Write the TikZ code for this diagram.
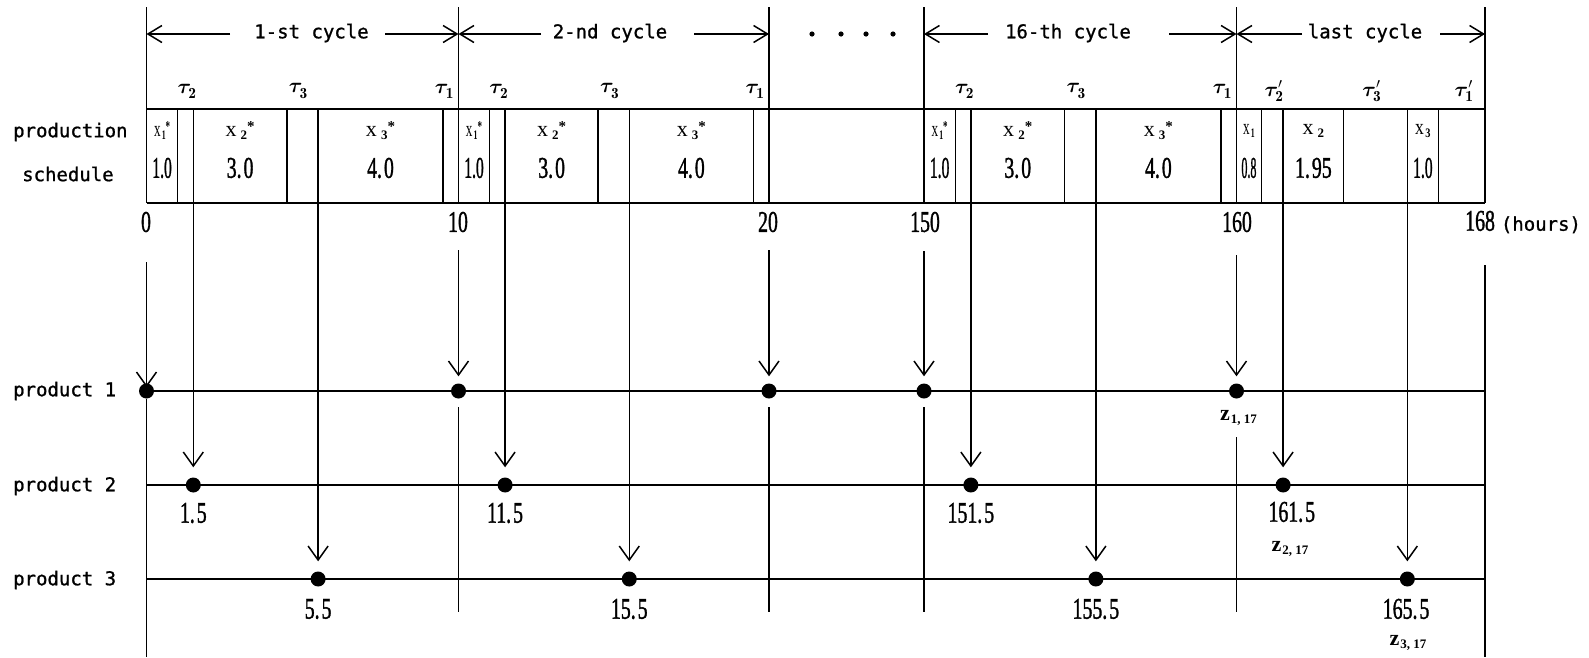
\documentclass[tikz,border=0pt]{standalone}
\usepackage{fontspec}
\usepackage{graphicx}
\usepackage{bm}
\usetikzlibrary{arrows.meta}
\newfontfamily\labfont{DejaVu Sans Mono}[FakeBold=1]
\newfontfamily\numfont{Liberation Serif}[FakeBold=1.5]
\newfontfamily\xfont{Liberation Serif}
% horizontally condensed text
\newcommand\nar[2][0.66]{\scalebox{#1}[1]{#2}}
% lot-size symbol x_i (with optional star)
\newcommand\xlab[2]{{\xfont\fontsize{22}{22}\selectfont x}\kern2pt\raisebox{-3pt}{\xfont\bfseries\fontsize{13}{13}\selectfont #1}\raisebox{5pt}{\xfont\bfseries\fontsize{15}{15}\selectfont #2}}
% setup-time symbol tau_i (with optional prime)
\newcommand\taul[2]{$\bm{\tau}_{\mathbf{#1}}^{#2}$}
% bold z_{i,17}
\newcommand\zlab[1]{{\fontsize{22}{22}\selectfont z}\kern1pt\raisebox{-3pt}{\fontsize{13}{13}\selectfont #1}}

\begin{document}
\begin{tikzpicture}[x=1pt,y=-1pt,
  boxline/.style={line width=2pt},
  rule/.style={line width=1.5pt},
  drop/.style={line width=1.5pt,-{Straight Barb[length=14pt,width=20pt,line width=1.5pt]}},
  span/.style={line width=1.5pt,-{Straight Barb[length=14pt,width=17pt,line width=1.5pt]}},
  lab/.style={font=\labfont\fontsize{19}{19}\selectfont, inner sep=0pt},
  num/.style={font=\numfont\fontsize{30}{30}\selectfont, inner sep=0pt},
  tau/.style={font=\fontsize{22}{22}\selectfont, inner sep=0pt},
  xl/.style={inner sep=0pt},
  zl/.style={font=\xfont\bfseries, inner sep=0pt},
  bead/.style={circle, fill, inner sep=0pt, minimum size=15pt},
]
\fill[white] (0,0) rectangle (1589,657);
\useasboundingbox (0,0) rectangle (1589,657);

% ---------- left-hand row titles ----------
\node[lab, anchor=west] (prod) at (13,132) {production};
\node[lab, anchor=west] (sched) at (22,174) {schedule};
\node[lab, anchor=west] (r1) at (13,391) {product 1};
\node[lab, anchor=west] (r2) at (13,486) {product 2};
\node[lab, anchor=west] (r3) at (13,580) {product 3};

% ---------- schedule bar frame and cycle boundaries ----------
\draw[boxline] (146.5,109) -- (1485,109);
\draw[boxline] (146.5,203) -- (1485,203);
\foreach \bx in {146.5,458.5,769,924,1236.5,1485}
  \draw[rule] (\bx,7) -- (\bx,203);

% ---------- cycle captions ----------
\coordinate (b0) at (146.5,34);
\coordinate (b10) at (458.5,34);
\coordinate (b20) at (769,34);
\coordinate (b150) at (924,34);
\coordinate (b160) at (1236.5,34);
\coordinate (b168) at (1485,34);

\node[lab] (cy1) at (311.5,33) {1-st cycle};
\coordinate (cy1l) at (230,34);
\coordinate (cy1r) at (385,34);
\draw[span] (cy1l) -- (b0);
\draw[span] (cy1r) -- (b10);

\node[lab] (cy2) at (610,33) {2-nd cycle};
\coordinate (cy2l) at (541,34);
\coordinate (cy2r) at (694,34);
\draw[span] (cy2l) -- (b10);
\draw[span] (cy2r) -- (b20);

\node[lab] (cy16) at (1068,33) {16-th cycle};
\coordinate (cy16l) at (988,34);
\coordinate (cy16r) at (1169,34);
\draw[span] (cy16l) -- (b150);
\draw[span] (cy16r) -- (b160);

\node[lab] (cyl) at (1365,33) {last cycle};
\coordinate (cyll) at (1302,34);
\coordinate (cylr) at (1440,34);
\draw[span] (cyll) -- (b160);
\draw[span] (cylr) -- (b168);

\foreach \dx in {812,841,866,893}
  \fill (\dx,34) circle (2.6);

% ---------- regular cycles ----------
\foreach \p/\s/\u/\lb/\lc in {a/146.5/31.2/1.\kern3pt 5/5.\kern3pt 5,
                               b/458.5/31.05/11.\kern3pt 5/15.\kern3pt 5,
                               c/924/31.25/151.\kern3pt 5/155.\kern3pt 5}{
  \begin{scope}[shift={(\s,0)}, x=\u pt]
    \foreach \t in {1,1.5,4.5,5.5,9.5}
      \draw[rule] (\t,109) -- (\t,203);
    \node[tau] at (1.3,91) {\taul{2}{}};
    \node[tau] at (4.87,91) {\taul{3}{}};
    \node[tau] at (9.55,91) {\taul{1}{}};
    \node[xl] at (0.5,131) {\nar[0.6]{\xlab{1}{*}}};
    \node[num] at (0.5,168) {\nar[0.52]{1.0}};
    \node[xl] at (3,131) {\xlab{\,2}{*}};
    \node[num] at (3,168) {\nar{3.\kern3pt 0}};
    \node[xl] at (7.5,131) {\xlab{\,3}{*}};
    \node[num] at (7.5,168) {\nar{4.\kern3pt 0}};
    \coordinate (\p-s2) at (1.5,203);
    \coordinate (\p-s3) at (5.5,203);
    \node[bead] (\p-2) at (1.5,485) {};
    \node[bead] (\p-3) at (5.5,579) {};
    \node[num] at (1.5,513) {\nar{\lb}};
    \node[num] at (5.5,609) {\nar{\lc}};
  \end{scope}
}

% ---------- last (shortened) cycle ----------
\begin{scope}[shift={(1236.5,0)}, x=31.06pt]
  \foreach \t in {0.8,1.5,3.45,5.5,6.5}
    \draw[rule] (\t,109) -- (\t,203);
  \node[tau] at (1.21,91) {\taul{2}{\prime}};
  \node[tau] at (4.36,91) {\taul{3}{\prime}};
  \node[tau] at (7.33,91) {\taul{1}{\prime}};
  \node[xl] at (0.4,131) {\nar[0.6]{\xlab{1}{}}};
  \node[num] at (0.4,168) {\nar[0.4]{0.8}};
  \node[xl] at (2.475,131) {\xlab{\,2}{}};
  \node[num] at (2.475,168) {\nar{1.\kern3pt 95}};
  \node[xl] at (6,131) {\nar[0.8]{\xlab{3}{}}};
  \node[num] at (6,168) {\nar[0.52]{1.0}};
  \coordinate (d-s2) at (1.5,203);
  \coordinate (d-s3) at (5.5,203);
  \node[bead] (d-2) at (1.5,485) {};
  \node[bead] (d-3) at (5.5,579) {};
  \node[num] at (1.78,512) {\nar{161.\kern3pt 5}};
  \node[zl] (z2) at (1.72,549) {\zlab{2, 17}};
  \node[num] at (5.46,609) {\nar{165.\kern3pt 5}};
  \node[zl] (z3) at (5.52,643) {\zlab{3, 17}};
\end{scope}

% ---------- product time lines ----------
\node[bead] (q0) at (146.5,391) {};
\node[bead] (q10) at (458.5,391) {};
\node[bead] (q20) at (769,391) {};
\node[bead] (q150) at (924,391) {};
\node[bead] (q160) at (1236.5,391) {};

\draw[boxline] (146.5,391) -- (1485,391);
\draw[boxline] (146.5,485) -- (1485,485);
\draw[boxline] (146.5,579) -- (1485,579);

% ---------- time axis labels ----------
\node[num] (h0) at (146,222) {\nar{0}};
\node[num] (h10) at (458,222) {\nar{10}};
\node[num] (h20) at (768,222) {\nar{20}};
\node[num] (h150) at (925,222) {\nar{150}};
\node[num] (h160) at (1237,222) {\nar{160}};
\node[num, anchor=west] (h168) at (1465,222) {\nar{168}\kern6pt{\labfont\fontsize{19}{19}\selectfont (hours)}};
\node[zl] (z1) at (1238.5,418) {\zlab{1, 17}};

% start of each product-1 arrow
\coordinate (v0) at (146.5,262);
\coordinate (v10) at (458.5,250);
\coordinate (v20) at (769,250);
\coordinate (v150) at (924,251);
\coordinate (v160) at (1236.5,255);

\draw[drop, shorten >=-4pt] (v0) -- (q0);
\foreach \k in {10,20,150,160}
  \draw[drop, shorten >=7pt] (v\k) -- (q\k);

% arrows from the end of each setup to products 2 and 3
\foreach \p in {a,b,c,d}{
  \draw[drop, shorten >=10pt] (\p-s2) -- (\p-2);
  \draw[drop, shorten >=10pt] (\p-s3) -- (\p-3);
}

% lower continuation of the boundary lines
\coordinate (e0) at (146.5,657);
\draw[rule] (q0) -- (e0);
\coordinate (t168) at (1485,265);
\coordinate (e168) at (1485,657);
\draw[rule] (t168) -- (e168);
\foreach \bx in {458.5,769,924}
  \draw[rule] (\bx,407) -- (\bx,612);
\draw[rule] (1236.5,437) -- (1236.5,612);
\end{tikzpicture}
\end{document}
